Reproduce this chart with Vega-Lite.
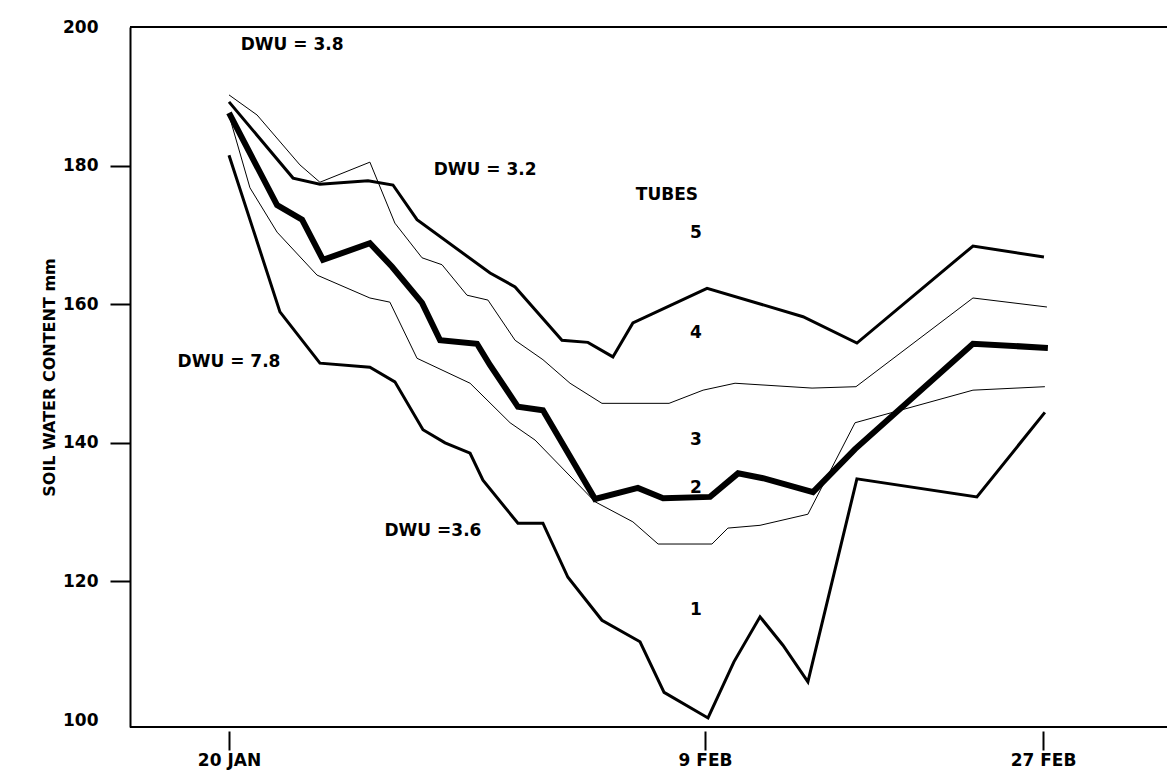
{
  "$schema": "https://vega.github.io/schema/vega-lite/v6.json",
  "width": 1040,
  "height": 700,
  "autosize": {"type": "none"},
  "padding": {"left": 130, "top": 27, "right": 0, "bottom": 44},
  "background": "white",
  "config": {"view": {"stroke": null}, "font": "DejaVu Sans"},
  "datasets": {
    "lines": [
      {"series": "S1", "day": 0, "swc": 189.2}, {"series": "S1", "day": 2.69, "swc": 178.2}, {"series": "S1", "day": 3.82, "swc": 177.3}, {"series": "S1", "day": 5.84, "swc": 177.8}, {"series": "S1", "day": 6.89, "swc": 177.2}, {"series": "S1", "day": 7.9, "swc": 172.2}, {"series": "S1", "day": 10.97, "swc": 164.5}, {"series": "S1", "day": 12.02, "swc": 162.5}, {"series": "S1", "day": 13.99, "swc": 154.8}, {"series": "S1", "day": 15.08, "swc": 154.5}, {"series": "S1", "day": 16.13, "swc": 152.4}, {"series": "S1", "day": 16.97, "swc": 157.3}, {"series": "S1", "day": 20.11, "swc": 162.3}, {"series": "S1", "day": 25.22, "swc": 158.2}, {"series": "S1", "day": 28.09, "swc": 154.4}, {"series": "S1", "day": 34.27, "swc": 168.4}, {"series": "S1", "day": 38.05, "swc": 166.8},
      {"series": "S2", "day": 0, "swc": 190.2}, {"series": "S2", "day": 1.18, "swc": 187.3}, {"series": "S2", "day": 2.98, "swc": 180.1}, {"series": "S2", "day": 3.82, "swc": 177.6}, {"series": "S2", "day": 5.92, "swc": 180.5}, {"series": "S2", "day": 6.97, "swc": 171.7}, {"series": "S2", "day": 8.11, "swc": 166.7}, {"series": "S2", "day": 8.95, "swc": 165.7}, {"series": "S2", "day": 10.0, "swc": 161.3}, {"series": "S2", "day": 10.88, "swc": 160.6}, {"series": "S2", "day": 12.02, "swc": 154.8}, {"series": "S2", "day": 13.19, "swc": 152.0}, {"series": "S2", "day": 14.33, "swc": 148.6}, {"series": "S2", "day": 15.67, "swc": 145.7}, {"series": "S2", "day": 18.49, "swc": 145.7}, {"series": "S2", "day": 19.92, "swc": 147.6}, {"series": "S2", "day": 21.6, "swc": 148.6}, {"series": "S2", "day": 25.7, "swc": 147.9}, {"series": "S2", "day": 28.04, "swc": 148.1}, {"series": "S2", "day": 34.27, "swc": 160.9}, {"series": "S2", "day": 38.21, "swc": 159.6},
      {"series": "S3", "day": 0, "swc": 187.6}, {"series": "S3", "day": 2.02, "swc": 174.3}, {"series": "S3", "day": 3.07, "swc": 172.2}, {"series": "S3", "day": 3.95, "swc": 166.4}, {"series": "S3", "day": 5.92, "swc": 168.8}, {"series": "S3", "day": 6.85, "swc": 165.4}, {"series": "S3", "day": 8.11, "swc": 160.2}, {"series": "S3", "day": 8.87, "swc": 154.8}, {"series": "S3", "day": 10.42, "swc": 154.3}, {"series": "S3", "day": 10.97, "swc": 151.2}, {"series": "S3", "day": 12.14, "swc": 145.2}, {"series": "S3", "day": 13.19, "swc": 144.7}, {"series": "S3", "day": 15.38, "swc": 131.9}, {"series": "S3", "day": 17.18, "swc": 133.5}, {"series": "S3", "day": 18.24, "swc": 132.0}, {"series": "S3", "day": 20.27, "swc": 132.2}, {"series": "S3", "day": 21.76, "swc": 135.6}, {"series": "S3", "day": 23.09, "swc": 134.9}, {"series": "S3", "day": 25.75, "swc": 132.9}, {"series": "S3", "day": 27.99, "swc": 139.1}, {"series": "S3", "day": 34.27, "swc": 154.3}, {"series": "S3", "day": 38.26, "swc": 153.7},
      {"series": "S4", "day": 0, "swc": 187.3}, {"series": "S4", "day": 0.88, "swc": 176.8}, {"series": "S4", "day": 2.02, "swc": 170.4}, {"series": "S4", "day": 3.7, "swc": 164.2}, {"series": "S4", "day": 5.92, "swc": 160.9}, {"series": "S4", "day": 6.76, "swc": 160.3}, {"series": "S4", "day": 7.9, "swc": 152.2}, {"series": "S4", "day": 10.13, "swc": 148.6}, {"series": "S4", "day": 11.81, "swc": 142.9}, {"series": "S4", "day": 12.86, "swc": 140.4}, {"series": "S4", "day": 15.38, "swc": 131.5}, {"series": "S4", "day": 16.97, "swc": 128.6}, {"series": "S4", "day": 18.03, "swc": 125.4}, {"series": "S4", "day": 20.37, "swc": 125.4}, {"series": "S4", "day": 21.22, "swc": 127.7}, {"series": "S4", "day": 22.93, "swc": 128.1}, {"series": "S4", "day": 25.48, "swc": 129.7}, {"series": "S4", "day": 27.99, "swc": 142.9}, {"series": "S4", "day": 34.27, "swc": 147.6}, {"series": "S4", "day": 38.1, "swc": 148.1},
      {"series": "S5", "day": 0, "swc": 181.5}, {"series": "S5", "day": 2.14, "swc": 158.9}, {"series": "S5", "day": 3.82, "swc": 151.5}, {"series": "S5", "day": 5.92, "swc": 150.9}, {"series": "S5", "day": 6.97, "swc": 148.8}, {"series": "S5", "day": 8.15, "swc": 141.9}, {"series": "S5", "day": 9.08, "swc": 140.0}, {"series": "S5", "day": 10.13, "swc": 138.5}, {"series": "S5", "day": 10.67, "swc": 134.6}, {"series": "S5", "day": 12.14, "swc": 128.4}, {"series": "S5", "day": 13.19, "swc": 128.4}, {"series": "S5", "day": 14.24, "swc": 120.6}, {"series": "S5", "day": 15.67, "swc": 114.4}, {"series": "S5", "day": 17.27, "swc": 111.3}, {"series": "S5", "day": 18.28, "swc": 104.0}, {"series": "S5", "day": 20.16, "swc": 100.3}, {"series": "S5", "day": 21.54, "swc": 108.4}, {"series": "S5", "day": 22.93, "swc": 114.9}, {"series": "S5", "day": 24.15, "swc": 110.8}, {"series": "S5", "day": 25.48, "swc": 105.5}, {"series": "S5", "day": 28.09, "swc": 134.8}, {"series": "S5", "day": 34.48, "swc": 132.2}, {"series": "S5", "day": 38.1, "swc": 144.4}
    ],
    "notes": [
      {"label": "DWU = 3.8", "day": 2.65, "swc": 197.4},
      {"label": "DWU = 3.2", "day": 10.76, "swc": 179.4},
      {"label": "TUBES", "day": 18.4, "swc": 175.8},
      {"label": "5", "day": 19.62, "swc": 170.3},
      {"label": "4", "day": 19.62, "swc": 155.8},
      {"label": "3", "day": 19.62, "swc": 140.4},
      {"label": "2", "day": 19.62, "swc": 133.5},
      {"label": "1", "day": 19.62, "swc": 115.9},
      {"label": "DWU = 7.8", "day": 0, "swc": 151.7},
      {"label": "DWU =3.6", "day": 8.57, "swc": 127.3}
    ]
  },
  "layer": [
    {
      "data": {"name": "lines"},
      "mark": {"type": "line", "color": "black", "strokeJoin": "miter"},
      "encoding": {
        "x": {
          "field": "day", "type": "quantitative",
          "scale": {"domain": [-4.16, 0, 20, 38, 44.76], "range": [0, 99, 575, 913, 1040], "nice": false, "zero": false},
          "axis": {
            "values": [0, 20, 38],
            "labelExpr": "datum.value == 0 ? '20 JAN' : (datum.value == 20 ? '9 FEB' : '27 FEB')",
            "domain": false, "offset": 4, "tickSize": 19, "tickWidth": 2, "tickColor": "black",
            "labelPadding": 2, "labelFont": "DejaVu Sans", "labelFontWeight": "bold", "labelFontSize": 17, "labelColor": "black",
            "labelFlush": false, "labelOverlap": false, "grid": false, "title": null
          }
        },
        "y": {
          "field": "swc", "type": "quantitative",
          "scale": {"domain": [99, 200], "nice": false, "zero": false},
          "axis": {
            "values": [100, 120, 140, 160, 180, 200],
            "tickSize": 20, "tickWidth": 2, "tickColor": "black",
            "tickOpacity": {"condition": {"test": "datum.value == 100 || datum.value == 200", "value": 0}, "value": 1},
            "domain": true, "domainColor": "black", "domainWidth": 2,
            "labelPadding": 12, "labelFont": "DejaVu Sans", "labelFontWeight": "bold", "labelFontSize": 17, "labelColor": "black",
            "labelFlush": false, "labelOverlap": false, "grid": false,
            "title": "SOIL WATER CONTENT mm", "titleFont": "DejaVu Sans", "titleFontWeight": "bold", "titleFontSize": 16, "titleColor": "black", "titlePadding": 5
          }
        },
        "strokeWidth": {
          "field": "series", "type": "nominal",
          "scale": {"type": "ordinal", "domain": ["S1", "S2", "S3", "S4", "S5"], "range": [3, 1, 6, 1, 3]},
          "legend": null
        }
      }
    },
    {
      "data": {"name": "notes"},
      "mark": {"type": "text", "font": "DejaVu Sans", "fontWeight": "bold", "fontSize": 17, "color": "black", "align": "center", "baseline": "middle"},
      "encoding": {
        "x": {"field": "day", "type": "quantitative"},
        "y": {"field": "swc", "type": "quantitative"},
        "text": {"field": "label"}
      }
    },
    {
      "data": {"values": [{}]},
      "mark": {"type": "rule", "color": "black", "strokeWidth": 2},
      "encoding": {"y": {"datum": 200}}
    },
    {
      "data": {"values": [{}]},
      "mark": {"type": "rule", "color": "black", "strokeWidth": 2},
      "encoding": {"y": {"datum": 99}}
    }
  ]
}
